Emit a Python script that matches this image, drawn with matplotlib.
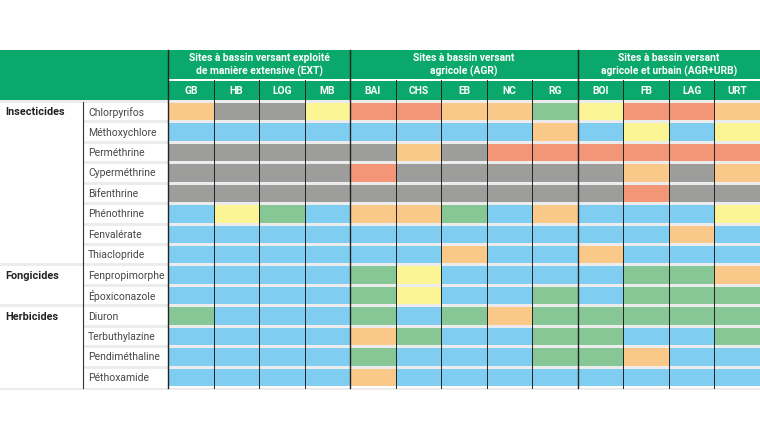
import matplotlib
matplotlib.use("Agg")
import matplotlib.pyplot as plt
from matplotlib.patches import Rectangle

groups = ["Sites à bassin versant exploité\nde manière extensive (EXT)",
          "Sites à bassin versant\nagricole (AGR)",
          "Sites à bassin versant\nagricole et urbain (AGR+URB)"]
group_sizes = [4, 5, 4]
sites = ["GB", "HB", "LOG", "MB", "BAI", "CHS", "EB", "NC", "RG", "BOI", "FB", "LAG", "URT"]
families = [("Insecticides", 0), ("Fongicides", 8), ("Herbicides", 10)]
compounds = ["Chlorpyrifos", "Méthoxychlore", "Perméthrine", "Cyperméthrine", "Bifenthrine",
             "Phénothrine", "Fenvalérate", "Thiaclopride", "Fenpropimorphe", "Époxiconazole",
             "Diuron", "Terbuthylazine", "Pendiméthaline", "Péthoxamide"]
# B blue, G green, Y yellow, O orange, R red, X grey
status = [
    "OXXY RROOG YRRO",
    "BBBB BBBBO BYBY",
    "XXXX XOXRR RRRR",
    "XXXX RXXXX XOXO",
    "XXXX XXXXX XRXX",
    "BYGB OOGBO BBBY",
    "BBBB BBBBB BBOB",
    "BBBB BBOBB OBBB",
    "BBBB GYBBB BGGO",
    "BBBB GYBBG BGGG",
    "GBBB GBGOG GGGG",
    "BBBB OGBBG GBBG",
    "BBBB GBBBG GOBB",
    "BBBB OBBBB BBBB",
]
colors = {"B": "#7fcef1", "G": "#87c795", "Y": "#fcf595", "O": "#fac888",
          "R": "#f29677", "X": "#9d9d9c"}
hdr = "#0aa86a"

fig = plt.figure(figsize=(7.6, 4.4), dpi=100)
ax = fig.add_axes([0, 0, 1, 1])
ax.set_xlim(0, 760); ax.set_ylim(440, 0); ax.axis("off")

x0, x1 = 168, 760
cw = (x1 - x0) / len(sites)
y_top, y_mid, y_hdr = 50, 80, 100
rh = (388 - 102) / len(compounds)
ystart = 102

ax.add_patch(Rectangle((0, y_top), 760, y_hdr - y_top, color=hdr, lw=0))
ax.add_patch(Rectangle((x0, y_mid - 1), x1 - x0, 2, color="white", lw=0))
ci = 0
for g, n in zip(groups, group_sizes):
    gx = x0 + ci * cw
    ax.text(gx + n * cw / 2, (y_top + y_mid) / 2, g, ha="center", va="center",
            color="white", fontsize=7.4, fontweight="bold", family="Roboto", linespacing=1.3)
    ci += n
for j, s in enumerate(sites):
    ax.text(x0 + (j + .5) * cw, (y_mid + y_hdr) / 2 + 1, s, ha="center", va="center",
            color="white", fontsize=7.4, fontweight="bold", family="Roboto")

for i, c in enumerate(compounds):
    y = ystart + i * rh
    ax.add_patch(Rectangle((0 if i in (0, 8, 10) else 83, y - 2), (760 if i in (0, 8, 10) else 677), 3,
                           color="#ececec", lw=0))
    codes = status[i].replace(" ", "")
    for j, k in enumerate(codes):
        ax.add_patch(Rectangle((x0 + j * cw, y + 1), cw, rh - 3, color=colors[k], lw=0))
    ax.text(88, y + rh / 2, c, ha="left", va="center", fontsize=7.5, color="#444444", family="Roboto")
for name, i in families:
    ax.text(5, ystart + i * rh + rh / 2, name, ha="left", va="center", fontsize=7.8,
            fontweight="bold", color="#222222", family="Roboto")
ax.add_patch(Rectangle((0, 388), 760, 2, color="#ececec", lw=0))

ax.plot([83, 83], [102, 388], color="#333333", lw=0.8)
for j in range(len(sites) + 1):
    xx = x0 + j * cw
    if j in (0, 4, 9):
        ax.plot([xx, xx], [y_top, 388], color="#222222", lw=1.0)
    elif j < len(sites):
        ax.plot([xx, xx], [y_mid, 388], color="#222222", lw=0.7)

fig.savefig("out.png", dpi=100)
